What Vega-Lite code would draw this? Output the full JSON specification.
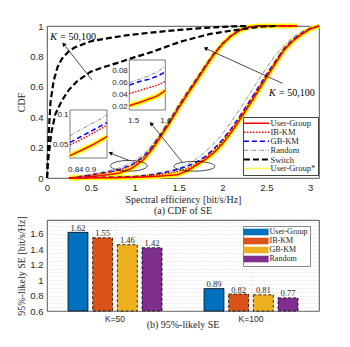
{
"$schema": "https://vega.github.io/schema/vega-lite/v6.json",
"background": "white",
"padding": {"left": 16, "top": 15, "right": 0, "bottom": 0},
"bounds": "flush",
"spacing": 42,
"config": {
 "font": "Liberation Serif",
 "view": {"stroke": "#262626", "strokeWidth": 0.8},
 "axis": {"labelFont": "Liberation Sans", "labelFontSize": 9.5, "labelColor": "#262626", "titleFont": "Liberation Serif", "titleFontWeight": "normal", "titleFontSize": 10, "titleColor": "#262626", "domain": false, "ticks": false, "grid": false, "labelPadding": 4, "titlePadding": 3, "labelOverlap": false, "labelFlush": false, "tickCount": 100},
 "legend": {"labelFont": "Liberation Serif", "labelFontSize": 8.5, "labelColor": "#262626"}
},
"resolve": {"scale": {"color": "independent", "fill": "independent", "strokeDash": "independent", "strokeWidth": "independent"}, "legend": {"color": "independent", "fill": "independent", "strokeDash": "independent", "strokeWidth": "independent"}},
"datasets": {
 "cdf": [
  {"k":50,"x":0.25,"User-Group":0,"IB-KM":0,"GB-KM":0,"Random":0,"User-Group*":0},
  {"k":50,"x":0.4,"User-Group":0.004,"IB-KM":0.01,"GB-KM":0.011,"Random":0.013,"User-Group*":0.004},
  {"k":50,"x":0.55,"User-Group":0.012,"IB-KM":0.022,"GB-KM":0.024,"Random":0.03,"User-Group*":0.012},
  {"k":50,"x":0.7,"User-Group":0.022,"IB-KM":0.037,"GB-KM":0.039,"Random":0.048,"User-Group*":0.022},
  {"k":50,"x":0.82,"User-Group":0.032,"IB-KM":0.052,"GB-KM":0.054,"Random":0.065,"User-Group*":0.032},
  {"k":50,"x":0.967,"User-Group":0.064,"IB-KM":0.083,"GB-KM":0.087,"Random":0.1,"User-Group*":0.064},
  {"k":50,"x":1.1,"User-Group":0.12,"IB-KM":0.135,"GB-KM":0.14,"Random":0.155,"User-Group*":0.12},
  {"k":50,"x":1.2,"User-Group":0.19,"IB-KM":0.2,"GB-KM":0.205,"Random":0.22,"User-Group*":0.19},
  {"k":50,"x":1.3,"User-Group":0.275,"IB-KM":0.283,"GB-KM":0.288,"Random":0.3,"User-Group*":0.275},
  {"k":50,"x":1.4,"User-Group":0.365,"IB-KM":0.372,"GB-KM":0.377,"Random":0.39,"User-Group*":0.365},
  {"k":50,"x":1.5,"User-Group":0.46,"IB-KM":0.466,"GB-KM":0.47,"Random":0.482,"User-Group*":0.46},
  {"k":50,"x":1.6,"User-Group":0.55,"IB-KM":0.555,"GB-KM":0.56,"Random":0.57,"User-Group*":0.55},
  {"k":50,"x":1.7,"User-Group":0.635,"IB-KM":0.64,"GB-KM":0.645,"Random":0.655,"User-Group*":0.635},
  {"k":50,"x":1.8,"User-Group":0.725,"IB-KM":0.729,"GB-KM":0.733,"Random":0.74,"User-Group*":0.725},
  {"k":50,"x":1.9,"User-Group":0.81,"IB-KM":0.813,"GB-KM":0.816,"Random":0.822,"User-Group*":0.81},
  {"k":50,"x":2.0,"User-Group":0.88,"IB-KM":0.882,"GB-KM":0.884,"Random":0.888,"User-Group*":0.88},
  {"k":50,"x":2.1,"User-Group":0.935,"IB-KM":0.936,"GB-KM":0.938,"Random":0.94,"User-Group*":0.935},
  {"k":50,"x":2.2,"User-Group":0.972,"IB-KM":0.973,"GB-KM":0.974,"Random":0.975,"User-Group*":0.972},
  {"k":50,"x":2.3,"User-Group":0.993,"IB-KM":0.993,"GB-KM":0.994,"Random":0.994,"User-Group*":0.993},
  {"k":50,"x":2.4,"User-Group":1,"IB-KM":1,"GB-KM":1,"Random":1,"User-Group*":1},
  {"k":50,"x":2.85,"User-Group":1,"IB-KM":1,"GB-KM":1,"Random":1,"User-Group*":1},
  {"k":100,"x":0.25,"User-Group":0,"IB-KM":0,"GB-KM":0,"Random":0,"User-Group*":0},
  {"k":100,"x":0.5,"User-Group":0.001,"IB-KM":0.002,"GB-KM":0.003,"Random":0.004,"User-Group*":0.001},
  {"k":100,"x":0.8,"User-Group":0.002,"IB-KM":0.004,"GB-KM":0.005,"Random":0.007,"User-Group*":0.002},
  {"k":100,"x":1.0,"User-Group":0.004,"IB-KM":0.007,"GB-KM":0.009,"Random":0.012,"User-Group*":0.004},
  {"k":100,"x":1.2,"User-Group":0.009,"IB-KM":0.016,"GB-KM":0.021,"Random":0.026,"User-Group*":0.009},
  {"k":100,"x":1.35,"User-Group":0.015,"IB-KM":0.028,"GB-KM":0.037,"Random":0.043,"User-Group*":0.015},
  {"k":100,"x":1.488,"User-Group":0.022,"IB-KM":0.042,"GB-KM":0.056,"Random":0.06,"User-Group*":0.022},
  {"k":100,"x":1.6,"User-Group":0.047,"IB-KM":0.062,"GB-KM":0.078,"Random":0.088,"User-Group*":0.047},
  {"k":100,"x":1.69,"User-Group":0.08,"IB-KM":0.088,"GB-KM":0.1,"Random":0.12,"User-Group*":0.08},
  {"k":100,"x":1.8,"User-Group":0.12,"IB-KM":0.13,"GB-KM":0.14,"Random":0.17,"User-Group*":0.12},
  {"k":100,"x":1.9,"User-Group":0.165,"IB-KM":0.178,"GB-KM":0.19,"Random":0.225,"User-Group*":0.165},
  {"k":100,"x":2.0,"User-Group":0.225,"IB-KM":0.24,"GB-KM":0.252,"Random":0.29,"User-Group*":0.225},
  {"k":100,"x":2.1,"User-Group":0.3,"IB-KM":0.315,"GB-KM":0.325,"Random":0.37,"User-Group*":0.3},
  {"k":100,"x":2.2,"User-Group":0.385,"IB-KM":0.398,"GB-KM":0.408,"Random":0.455,"User-Group*":0.385},
  {"k":100,"x":2.3,"User-Group":0.475,"IB-KM":0.488,"GB-KM":0.497,"Random":0.545,"User-Group*":0.475},
  {"k":100,"x":2.4,"User-Group":0.565,"IB-KM":0.578,"GB-KM":0.587,"Random":0.635,"User-Group*":0.565},
  {"k":100,"x":2.5,"User-Group":0.66,"IB-KM":0.672,"GB-KM":0.68,"Random":0.725,"User-Group*":0.66},
  {"k":100,"x":2.6,"User-Group":0.75,"IB-KM":0.76,"GB-KM":0.766,"Random":0.805,"User-Group*":0.75},
  {"k":100,"x":2.7,"User-Group":0.84,"IB-KM":0.845,"GB-KM":0.85,"Random":0.87,"User-Group*":0.84},
  {"k":100,"x":2.8,"User-Group":0.9,"IB-KM":0.906,"GB-KM":0.91,"Random":0.925,"User-Group*":0.9},
  {"k":100,"x":2.9,"User-Group":0.945,"IB-KM":0.949,"GB-KM":0.952,"Random":0.962,"User-Group*":0.945},
  {"k":100,"x":3.0,"User-Group":0.98,"IB-KM":0.982,"GB-KM":0.983,"Random":0.988,"User-Group*":0.98},
  {"k":100,"x":3.1,"User-Group":1,"IB-KM":1,"GB-KM":1,"Random":1,"User-Group*":1},
  {"k":50,"x":0,"Switch":0},{"k":50,"x":0.005,"Switch":0.05},{"k":50,"x":0.01,"Switch":0.15},{"k":50,"x":0.02,"Switch":0.3},
  {"k":50,"x":0.04,"Switch":0.5},{"k":50,"x":0.076,"Switch":0.64},{"k":50,"x":0.12,"Switch":0.73},{"k":50,"x":0.17,"Switch":0.785},
  {"k":50,"x":0.25,"Switch":0.835},{"k":50,"x":0.32,"Switch":0.86},{"k":50,"x":0.5,"Switch":0.9},{"k":50,"x":0.7,"Switch":0.92},
  {"k":50,"x":0.9,"Switch":0.938},{"k":50,"x":1.08,"Switch":0.95},{"k":50,"x":1.3,"Switch":0.963},{"k":50,"x":1.54,"Switch":0.976},
  {"k":50,"x":1.8,"Switch":0.988},{"k":50,"x":2.1,"Switch":0.997},{"k":50,"x":2.3,"Switch":1},
  {"k":100,"x":0,"Switch":0},{"k":100,"x":0.01,"Switch":0.1},{"k":100,"x":0.02,"Switch":0.15},{"k":100,"x":0.05,"Switch":0.3},
  {"k":100,"x":0.095,"Switch":0.42},{"k":100,"x":0.17,"Switch":0.51},{"k":100,"x":0.25,"Switch":0.58},{"k":100,"x":0.35,"Switch":0.64},
  {"k":100,"x":0.5,"Switch":0.7},{"k":100,"x":0.65,"Switch":0.73},{"k":100,"x":0.82,"Switch":0.76},{"k":100,"x":1.0,"Switch":0.795},
  {"k":100,"x":1.2,"Switch":0.83},{"k":100,"x":1.39,"Switch":0.87},{"k":100,"x":1.54,"Switch":0.9},{"k":100,"x":1.86,"Switch":0.948},
  {"k":100,"x":2.11,"Switch":0.97},{"k":100,"x":2.43,"Switch":0.995},{"k":100,"x":2.6,"Switch":1}
 ],
 "ins1": [
  {"x":0.819,"User-Group":0.032,"IB-KM":0.05,"GB-KM":0.054,"Random":0.065,"User-Group*":0.032},
  {"x":0.86,"User-Group":0.04,"IB-KM":0.058,"GB-KM":0.063,"Random":0.075,"User-Group*":0.04},
  {"x":0.9,"User-Group":0.048,"IB-KM":0.067,"GB-KM":0.072,"Random":0.084,"User-Group*":0.048},
  {"x":0.94,"User-Group":0.057,"IB-KM":0.076,"GB-KM":0.081,"Random":0.093,"User-Group*":0.057},
  {"x":0.967,"User-Group":0.064,"IB-KM":0.083,"GB-KM":0.087,"Random":0.1,"User-Group*":0.064}
 ],
 "ins2": [
  {"x":1.488,"User-Group":0.022,"IB-KM":0.042,"GB-KM":0.056,"Random":0.06,"User-Group*":0.022},
  {"x":1.52,"User-Group":0.027,"IB-KM":0.047,"GB-KM":0.062,"Random":0.066,"User-Group*":0.027},
  {"x":1.55,"User-Group":0.033,"IB-KM":0.052,"GB-KM":0.066,"Random":0.072,"User-Group*":0.033},
  {"x":1.575,"User-Group":0.038,"IB-KM":0.056,"GB-KM":0.071,"Random":0.078,"User-Group*":0.038},
  {"x":1.6,"User-Group":0.047,"IB-KM":0.062,"GB-KM":0.078,"Random":0.088,"User-Group*":0.047}
 ],
 "bars": [
  {"k":"K=50","m":"User-Group","v":1.62},{"k":"K=50","m":"IB-KM","v":1.55},{"k":"K=50","m":"GB-KM","v":1.46},{"k":"K=50","m":"Random","v":1.42},
  {"k":"K=100","m":"User-Group","v":0.89},{"k":"K=100","m":"IB-KM","v":0.82},{"k":"K=100","m":"GB-KM","v":0.81},{"k":"K=100","m":"Random","v":0.77}
 ]
},
"vconcat": [
 {
  "width": 272, "height": 152,
  "title": {"text": "(a) CDF of SE", "orient": "bottom", "font": "Liberation Serif", "fontSize": 10, "fontWeight": "normal", "color": "#262626", "offset": 1},
  "layer": [
   {"layer": [
    {"data": {"name": "cdf"},
     "transform": [{"fold": ["User-Group*"], "as": ["m", "y"]}, {"filter": "isValid(datum.y)"}],
     "mark": {"type": "line", "strokeWidth": 5},
     "encoding": {
      "x": {"field": "x", "type": "quantitative", "scale": {"domain": [0, 3.1], "nice": false, "zero": false}, "axis": {"values": [0, 0.5, 1, 1.5, 2, 2.5, 3], "tickCount": 100, "format": "~g", "title": "Spectral efficiency [bit/s/Hz]"}},
      "y": {"field": "y", "type": "quantitative", "scale": {"domain": [0, 1], "nice": false}, "axis": {"values": [0, 0.2, 0.4, 0.6, 0.8, 1], "tickCount": 100, "format": "~g", "title": "CDF"}},
      "color": {"field": "m", "type": "nominal", "scale": {"domain": ["User-Group","IB-KM","GB-KM","Random","Switch","User-Group*"], "range": ["#ff0000","#ff0000","#0000ff","#555555","#000000","#ffff00"]}, "legend": {"title": null, "orient": "none", "legendX": 196, "legendY": 91, "symbolType": "M-4.2,0H4.2", "symbolSize": 36, "symbolOffset": 7, "labelOffset": 9.5, "labelFontSize": 8.5, "strokeColor": "#444444", "fillColor": "white", "padding": 2, "rowPadding": 0}},
      "detail": {"field": "k", "type": "nominal"}
     }},
    {"data": {"name": "cdf"},
     "transform": [{"fold": ["Random", "GB-KM", "IB-KM", "User-Group", "Switch"], "as": ["m", "y"]}, {"filter": "isValid(datum.y)"}],
     "mark": {"type": "line"},
     "encoding": {
      "x": {"field": "x", "type": "quantitative"},
      "y": {"field": "y", "type": "quantitative"},
      "color": {"field": "m", "type": "nominal", "scale": {"domain": ["User-Group","IB-KM","GB-KM","Random","Switch","User-Group*"], "range": ["#ff0000","#ff0000","#0000ff","#555555","#000000","#ffff00"]}, "legend": {"title": null, "orient": "none", "legendX": 196, "legendY": 91, "symbolType": "M-4.2,0H4.2", "symbolSize": 36, "symbolOffset": 7, "labelOffset": 9.5, "labelFontSize": 8.5, "strokeColor": "#444444", "fillColor": "white", "padding": 2, "rowPadding": 0}},
      "strokeDash": {"field": "m", "type": "nominal", "scale": {"domain": ["User-Group","IB-KM","GB-KM","Random","Switch","User-Group*"], "range": [[1,0],[1.5,1.5],[5,3],[4,1.5,1,1.5],[6,3],[1,0]]}, "legend": {"title": null, "orient": "none", "legendX": 196, "legendY": 91, "symbolType": "M-4.2,0H4.2", "symbolSize": 36, "symbolOffset": 7, "labelOffset": 9.5, "labelFontSize": 8.5, "strokeColor": "#444444", "fillColor": "white", "padding": 2, "rowPadding": 0}},
      "strokeWidth": {"field": "m", "type": "nominal", "scale": {"type": "ordinal", "domain": ["User-Group","IB-KM","GB-KM","Random","Switch","User-Group*"], "range": [1.5,1.5,1.5,0.7,2.2,1.2]}, "legend": {"title": null, "orient": "none", "legendX": 196, "legendY": 91, "symbolType": "M-4.2,0H4.2", "symbolSize": 36, "symbolOffset": 7, "labelOffset": 9.5, "labelFontSize": 8.5, "strokeColor": "#444444", "fillColor": "white", "padding": 2, "rowPadding": 0}},
      "detail": {"field": "k", "type": "nominal"}
     }},
    {"data": {"values": [{}]},
     "mark": {"type": "point", "shape": "M-1,0C-1,-0.16,-0.55,-0.29,0,-0.29C0.55,-0.29,1,-0.16,1,0C1,0.16,0.55,0.29,0,0.29C-0.55,0.29,-1,0.16,-1,0Z", "size": 1350, "filled": false, "stroke": "#000000", "strokeWidth": 0.7, "opacity": 1},
     "encoding": {"x": {"datum": 0.933}, "y": {"datum": 0.0805}}},
    {"data": {"values": [{}]},
     "mark": {"type": "point", "shape": "M-1,0C-1,-0.13,-0.55,-0.237,0,-0.237C0.55,-0.237,1,-0.13,1,0C1,0.13,0.55,0.237,0,0.237C-0.55,0.237,-1,0.13,-1,0Z", "size": 1681, "filled": false, "stroke": "#000000", "strokeWidth": 0.7, "opacity": 1},
     "encoding": {"x": {"datum": 1.68}, "y": {"datum": 0.077}}},
    {"data": {"values": [
      {"x1": 0.514, "y1": 0.644, "x2": 0.19, "y2": 0.881},
      {"x1": 2.683, "y1": 0.623, "x2": 1.807, "y2": 0.853},
      {"x1": 0.932, "y1": 0.116, "x2": 0.722, "y2": 0.164},
      {"x1": 1.541, "y1": 0.104, "x2": 1.187, "y2": 0.358}]},
     "mark": {"type": "rule", "color": "#000000", "strokeWidth": 0.7},
     "encoding": {"x": {"field": "x1", "type": "quantitative"}, "y": {"field": "y1", "type": "quantitative"}, "x2": {"field": "x2"}, "y2": {"field": "y2"}}},
    {"data": {"values": [{}]}, "mark": {"type": "point", "shape": "triangle-up", "size": 20, "filled": true, "color": "#000000", "opacity": 1, "angle": 322}, "encoding": {"x": {"datum": 0.19}, "y": {"datum": 0.881}}},
    {"data": {"values": [{}]}, "mark": {"type": "point", "shape": "triangle-up", "size": 20, "filled": true, "color": "#000000", "opacity": 1, "angle": 294.5}, "encoding": {"x": {"datum": 1.807}, "y": {"datum": 0.853}}},
    {"data": {"values": [{}]}, "mark": {"type": "point", "shape": "triangle-up", "size": 20, "filled": true, "color": "#000000", "opacity": 1, "angle": 291.6}, "encoding": {"x": {"datum": 0.722}, "y": {"datum": 0.164}}},
    {"data": {"values": [{}]}, "mark": {"type": "point", "shape": "triangle-up", "size": 20, "filled": true, "color": "#000000", "opacity": 1, "angle": 321}, "encoding": {"x": {"datum": 1.187}, "y": {"datum": 0.358}}},
    {"data": {"values": [{"x": 0.038, "y": 0.929}, {"x": 2.53, "y": 0.556}]},
     "mark": {"type": "text", "text": "K", "font": "Liberation Serif", "fontStyle": "italic", "fontSize": 10, "align": "left", "baseline": "middle", "color": "#000000"},
     "encoding": {"x": {"field": "x", "type": "quantitative"}, "y": {"field": "y", "type": "quantitative"}}},
    {"data": {"values": [{"x": 0.038, "y": 0.929}, {"x": 2.53, "y": 0.556}]},
     "mark": {"type": "text", "text": "= 50,100", "font": "Liberation Serif", "fontSize": 10, "align": "left", "baseline": "middle", "dx": 10, "color": "#000000"},
     "encoding": {"x": {"field": "x", "type": "quantitative"}, "y": {"field": "y", "type": "quantitative"}}}
   ]},
   {"layer": [
    {"data": {"values": [{}]},
     "mark": {"type": "rect", "fill": "white", "stroke": "#444444", "strokeWidth": 0.7},
     "encoding": {
      "x": {"datum": 0.819, "type": "quantitative", "scale": {"domain": [0.819, 0.967], "range": [23, 60], "nice": false, "zero": false}, "axis": {"orient": "bottom", "offset": -20, "values": [0.84, 0.9], "format": "~g", "title": null, "labelFontSize": 8, "labelPadding": 7, "zindex": 1}},
      "x2": {"datum": 0.967},
      "y": {"datum": 0.028, "type": "quantitative", "scale": {"domain": [0.028, 0.108], "range": [132, 84], "nice": false, "zero": false}, "axis": {"orient": "left", "offset": -23, "values": [0.05, 0.1], "format": "~g", "title": null, "labelFontSize": 8, "labelPadding": 2, "zindex": 1}},
      "y2": {"datum": 0.108}
     }},
    {"data": {"name": "ins1"},
     "transform": [{"fold": ["User-Group*"], "as": ["m", "y"]}],
     "mark": {"type": "line", "strokeWidth": 5},
     "encoding": {
      "x": {"field": "x", "type": "quantitative"},
      "y": {"field": "y", "type": "quantitative"},
      "color": {"field": "m", "type": "nominal", "scale": {"domain": ["User-Group","IB-KM","GB-KM","Random","Switch","User-Group*"], "range": ["#ff0000","#ff0000","#0000ff","#555555","#000000","#ffff00"]}, "legend": {"title": null, "orient": "none", "legendX": 196, "legendY": 91, "symbolType": "M-4.2,0H4.2", "symbolSize": 36, "symbolOffset": 7, "labelOffset": 9.5, "labelFontSize": 8.5, "strokeColor": "#444444", "fillColor": "white", "padding": 2, "rowPadding": 0}}
     }},
    {"data": {"name": "ins1"},
     "transform": [{"fold": ["Random", "GB-KM", "IB-KM", "User-Group"], "as": ["m", "y"]}],
     "mark": {"type": "line"},
     "encoding": {
      "x": {"field": "x", "type": "quantitative"},
      "y": {"field": "y", "type": "quantitative"},
      "color": {"field": "m", "type": "nominal", "scale": {"domain": ["User-Group","IB-KM","GB-KM","Random","Switch","User-Group*"], "range": ["#ff0000","#ff0000","#0000ff","#555555","#000000","#ffff00"]}, "legend": {"title": null, "orient": "none", "legendX": 196, "legendY": 91, "symbolType": "M-4.2,0H4.2", "symbolSize": 36, "symbolOffset": 7, "labelOffset": 9.5, "labelFontSize": 8.5, "strokeColor": "#444444", "fillColor": "white", "padding": 2, "rowPadding": 0}},
      "strokeDash": {"field": "m", "type": "nominal", "scale": {"domain": ["User-Group","IB-KM","GB-KM","Random","Switch","User-Group*"], "range": [[1,0],[1.5,1.5],[5,3],[4,1.5,1,1.5],[6,3],[1,0]]}, "legend": {"title": null, "orient": "none", "legendX": 196, "legendY": 91, "symbolType": "M-4.2,0H4.2", "symbolSize": 36, "symbolOffset": 7, "labelOffset": 9.5, "labelFontSize": 8.5, "strokeColor": "#444444", "fillColor": "white", "padding": 2, "rowPadding": 0}},
      "strokeWidth": {"field": "m", "type": "nominal", "scale": {"type": "ordinal", "domain": ["User-Group","IB-KM","GB-KM","Random","Switch","User-Group*"], "range": [1.5,1.5,1.5,0.7,2.2,1.2]}, "legend": {"title": null, "orient": "none", "legendX": 196, "legendY": 91, "symbolType": "M-4.2,0H4.2", "symbolSize": 36, "symbolOffset": 7, "labelOffset": 9.5, "labelFontSize": 8.5, "strokeColor": "#444444", "fillColor": "white", "padding": 2, "rowPadding": 0}}
     }}
   ]},
   {"layer": [
    {"data": {"values": [{}]},
     "mark": {"type": "rect", "fill": "white", "stroke": "#444444", "strokeWidth": 0.7},
     "encoding": {
      "x": {"datum": 1.488, "type": "quantitative", "scale": {"domain": [1.488, 1.6], "range": [82.3, 118.3], "nice": false, "zero": false}, "axis": {"orient": "bottom", "offset": -68, "values": [1.5, 1.6], "format": "~g", "title": null, "labelFontSize": 8, "labelPadding": 6, "zindex": 1}},
      "x2": {"datum": 1.6},
      "y": {"datum": 0.0145, "type": "quantitative", "scale": {"domain": [0.0145, 0.098], "range": [84, 34], "nice": false, "zero": false}, "axis": {"orient": "left", "offset": -82.3, "values": [0.02, 0.04, 0.06, 0.08], "format": "~g", "title": null, "labelFontSize": 8, "labelPadding": 2, "zindex": 1}},
      "y2": {"datum": 0.098}
     }},
    {"data": {"name": "ins2"},
     "transform": [{"fold": ["User-Group*"], "as": ["m", "y"]}],
     "mark": {"type": "line", "strokeWidth": 5},
     "encoding": {
      "x": {"field": "x", "type": "quantitative"},
      "y": {"field": "y", "type": "quantitative"},
      "color": {"field": "m", "type": "nominal", "scale": {"domain": ["User-Group","IB-KM","GB-KM","Random","Switch","User-Group*"], "range": ["#ff0000","#ff0000","#0000ff","#555555","#000000","#ffff00"]}, "legend": {"title": null, "orient": "none", "legendX": 196, "legendY": 91, "symbolType": "M-4.2,0H4.2", "symbolSize": 36, "symbolOffset": 7, "labelOffset": 9.5, "labelFontSize": 8.5, "strokeColor": "#444444", "fillColor": "white", "padding": 2, "rowPadding": 0}}
     }},
    {"data": {"name": "ins2"},
     "transform": [{"fold": ["Random", "GB-KM", "IB-KM", "User-Group"], "as": ["m", "y"]}],
     "mark": {"type": "line"},
     "encoding": {
      "x": {"field": "x", "type": "quantitative"},
      "y": {"field": "y", "type": "quantitative"},
      "color": {"field": "m", "type": "nominal", "scale": {"domain": ["User-Group","IB-KM","GB-KM","Random","Switch","User-Group*"], "range": ["#ff0000","#ff0000","#0000ff","#555555","#000000","#ffff00"]}, "legend": {"title": null, "orient": "none", "legendX": 196, "legendY": 91, "symbolType": "M-4.2,0H4.2", "symbolSize": 36, "symbolOffset": 7, "labelOffset": 9.5, "labelFontSize": 8.5, "strokeColor": "#444444", "fillColor": "white", "padding": 2, "rowPadding": 0}},
      "strokeDash": {"field": "m", "type": "nominal", "scale": {"domain": ["User-Group","IB-KM","GB-KM","Random","Switch","User-Group*"], "range": [[1,0],[1.5,1.5],[5,3],[4,1.5,1,1.5],[6,3],[1,0]]}, "legend": {"title": null, "orient": "none", "legendX": 196, "legendY": 91, "symbolType": "M-4.2,0H4.2", "symbolSize": 36, "symbolOffset": 7, "labelOffset": 9.5, "labelFontSize": 8.5, "strokeColor": "#444444", "fillColor": "white", "padding": 2, "rowPadding": 0}},
      "strokeWidth": {"field": "m", "type": "nominal", "scale": {"type": "ordinal", "domain": ["User-Group","IB-KM","GB-KM","Random","Switch","User-Group*"], "range": [1.5,1.5,1.5,0.7,2.2,1.2]}, "legend": {"title": null, "orient": "none", "legendX": 196, "legendY": 91, "symbolType": "M-4.2,0H4.2", "symbolSize": 36, "symbolOffset": 7, "labelOffset": 9.5, "labelFontSize": 8.5, "strokeColor": "#444444", "fillColor": "white", "padding": 2, "rowPadding": 0}}
     }}
   ]}
  ],
  "resolve": {"scale": {"x": "independent", "y": "independent"}}
 },
 {
  "width": 272, "height": 91,
  "title": {"text": "(b) 95%-likely SE", "orient": "bottom", "font": "Liberation Serif", "fontSize": 10, "fontWeight": "normal", "color": "#262626", "offset": -3},
  "data": {"name": "bars"},
  "encoding": {
   "x": {"field": "k", "type": "nominal", "sort": ["K=50", "K=100"], "scale": {"paddingInner": 0, "paddingOuter": 0}, "axis": {"title": null, "labelAngle": 0, "labelFontSize": 8.5, "labelPadding": 3, "grid": true, "bandPosition": 0.5, "gridDash": [1, 2], "gridColor": "#c8c8c8", "gridWidth": 0.6}},
   "xOffset": {"field": "m", "type": "nominal", "sort": ["User-Group", "IB-KM", "GB-KM", "Random"], "scale": {"paddingInner": 0.19, "paddingOuter": 0.85}}
  },
  "layer": [
   {"mark": {"type": "bar", "stroke": "#000000", "strokeWidth": 0.8},
    "encoding": {
     "y": {"field": "v", "type": "quantitative", "scale": {"domain": [0.6, 1.78], "nice": false, "zero": false}, "axis": {"values": [0.6,0.65,0.7,0.75,0.8,0.85,0.9,0.95,1,1.05,1.1,1.15,1.2,1.25,1.3,1.35,1.4,1.45,1.5,1.55,1.6,1.65,1.7,1.75], "tickCount": 100, "labelExpr": "round(datum.value*100) % 20 === 0 ? toString(round(datum.value*10)/10) : ''", "title": "95%-likely SE [bit/s/Hz]", "grid": true, "gridDash": [1, 2], "gridColor": "#c8c8c8", "gridWidth": 0.6}},
     "y2": {"datum": 0.6},
     "fill": {"field": "m", "type": "nominal", "scale": {"domain": ["User-Group", "IB-KM", "GB-KM", "Random"], "range": ["#0072BD", "#D95319", "#EDB120", "#7E2F8E"]}, "legend": {"title": null, "orient": "none", "legendX": 196, "legendY": 6, "symbolType": "M-4.2,-1.1H4.2V1.1H-4.2Z", "symbolSize": 36, "symbolOffset": 7, "labelOffset": 9.5, "symbolStrokeColor": "#000000", "symbolStrokeWidth": 0.8, "labelFontSize": 8, "strokeColor": "#888888", "fillColor": "white", "padding": 2, "rowPadding": -3}},
     "strokeDash": {"field": "m", "type": "nominal", "scale": {"domain": ["User-Group", "IB-KM", "GB-KM", "Random"], "range": [[1, 0], [3, 2], [3, 2], [3, 2]]}, "legend": {"title": null, "orient": "none", "legendX": 196, "legendY": 6, "symbolType": "M-4.2,-1.1H4.2V1.1H-4.2Z", "symbolSize": 36, "symbolOffset": 7, "labelOffset": 9.5, "symbolStrokeColor": "#000000", "symbolStrokeWidth": 0.8, "labelFontSize": 8, "strokeColor": "#888888", "fillColor": "white", "padding": 2, "rowPadding": -3}}
    }},
   {"mark": {"type": "text", "font": "Liberation Serif", "fontSize": 8.5, "baseline": "alphabetic", "dy": -1.5, "color": "#262626"},
    "encoding": {
     "y": {"field": "v", "type": "quantitative"},
     "text": {"field": "v", "type": "quantitative", "format": ".2f"}
    }}
  ]
 }
]
}
